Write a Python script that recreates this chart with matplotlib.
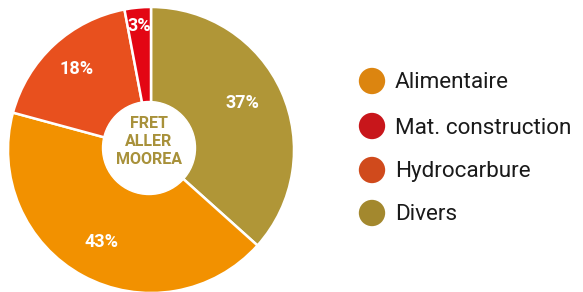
import numpy as np
import matplotlib.pyplot as plt

# data (pie drawn clockwise from 12 o'clock)
slice_names = ['Divers', 'Alimentaire', 'Hydrocarbure', 'Mat. construction']
slice_values = [37, 43, 18, 3]
slice_colors = ['#B09637', '#F29100', '#E8501E', '#E30613']

legend_names = ['Alimentaire', 'Mat. construction', 'Hydrocarbure', 'Divers']
legend_colors = ['#DC8510', '#C8161B', '#D04A1C', '#A3882E']

center_title = 'FRET\nALLER\nMOOREA'

W, H = 583, 292
fig = plt.figure(figsize=(W / 100, H / 100), dpi=100)
ax = fig.add_axes([0, 0, 1, 1])

cx, cy, R = 151, H - 150, 143
explode = [0.02, 0, 0, 0]

wedges, _ = ax.pie(slice_values, colors=slice_colors, startangle=90,
                   counterclock=False, center=(cx, cy), radius=R,
                   explode=explode,
                   wedgeprops=dict(edgecolor='white', linewidth=1.8))

label_r = [0.72, 0.73, 0.77, 0.87]
for w, v, r in zip(wedges, slice_values, label_r):
    mid = np.deg2rad((w.theta1 + w.theta2) / 2 + (3 if v == 37 else 0))
    x = cx + r * R * np.cos(mid)
    y = cy + r * R * np.sin(mid)
    ax.text(x, y, f'{v}%', color='white', fontsize=13, fontweight='bold',
            ha='center', va='center', family='Roboto')

# white hole with title
ax.add_patch(plt.Circle((149, H - 148), 46.5, color='white', zorder=3))
ax.text(149, H - 141, center_title, color='#A8913A', fontsize=11.5,
        fontweight='bold', ha='center', va='center', linespacing=1.25,
        family='Roboto', zorder=4)

# legend
leg_y = [81, 126, 170, 213]
for name, col, y in zip(legend_names, legend_colors, leg_y):
    ax.scatter(372, H - y, s=360, color=col, edgecolors='none')
    ax.text(395, H - y - 2, name, fontsize=16.2, color='#1a1a1a',
            ha='left', va='center', family='Roboto')

ax.set_xlim(0, W)
ax.set_ylim(0, H)
ax.set_aspect('equal')
ax.axis('off')

plt.savefig('out.png', dpi=100)
